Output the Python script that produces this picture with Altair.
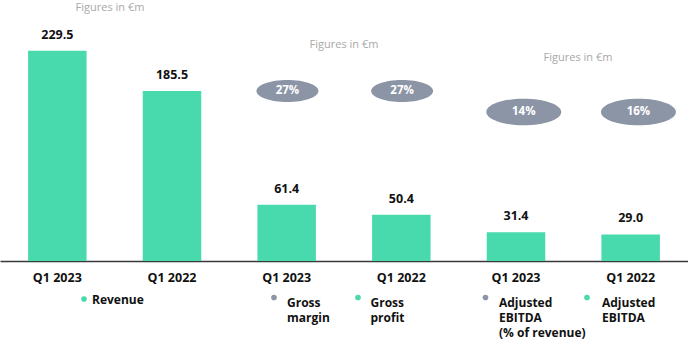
import json
import altair as alt
import pandas as pd

# ---- data ----
slots = [0, 1, 2, 3, 4, 5]
periods = ["Q1 2023", "Q1 2022", "Q1 2023", "Q1 2022", "Q1 2023", "Q1 2022"]
values = [229.5, 185.5, 61.4, 50.4, 31.4, 29.0]
value_labels = ["229.5", "185.5", "61.4", "50.4", "31.4", "29.0"]

margin_slots = [2, 3]
margin_labels = ["27%", "27%"]
ebitda_pct_slots = [4, 5]
ebitda_pct_labels = ["14%", "16%"]

legend_labels = ["Revenue", "Gross\nmargin", "Gross\nprofit",
                 "Adjusted\nEBITDA\n(% of revenue)", "Adjusted\nEBITDA"]
legend_kinds = ["green", "gray", "green", "gray", "green"]
note_text = "Figures in €m"

GREEN = "#48D9AD"
GRAY = "#8C95A6"
FONT = "Open Sans"

bars_df = pd.DataFrame({"slot": slots, "period": periods, "value": values,
                        "label": value_labels})

xscale = alt.Scale(domain=slots, paddingInner=0.49, paddingOuter=0.245)
yscale = alt.Scale(domain=[0, 285])
X = alt.X("slot:O", scale=xscale,
          axis=alt.Axis(labels=False, ticks=False, title=None,
                        domainColor="#3a3a3a", domainWidth=1.5, grid=False))
Y = alt.Y("value:Q", scale=yscale, axis=None)

base = alt.Chart(bars_df)
bars = base.mark_bar(color=GREEN).encode(x=X, y=Y)
val_text = base.mark_text(font=FONT, fontWeight="bold", fontSize=12.5,
                          color="#111111", baseline="alphabetic", dy=-12).encode(
    x=X, y=Y, text="label:N")
period_text = base.mark_text(font=FONT, fontWeight="bold", fontSize=12.5,
                             color="#111111", baseline="alphabetic").encode(
    x=X, y=alt.value(282), text="period:N")

ELLIPSE = "M -1 0 A 1 0.355 0 1 0 1 0 A 1 0.355 0 1 0 -1 0 Z"
HALF_BAND = 29  # xOffset is measured from the band start


def bubbles(sl, labels, ypix, width, xoff):
    df = pd.DataFrame({"slot": sl, "label": labels})
    c = alt.Chart(df)
    e = c.mark_point(shape=ELLIPSE, filled=True, color=GRAY, opacity=1,
                     size=width * width, strokeWidth=0).encode(
        x=X, y=alt.value(ypix), xOffset=alt.value(HALF_BAND + xoff))
    t = c.mark_text(font=FONT, fontWeight="bold", fontSize=11.5, color="white",
                    baseline="middle").encode(
        x=X, y=alt.value(ypix), xOffset=alt.value(HALF_BAND + xoff), text="label:N")
    return e + t


b1 = bubbles(margin_slots, margin_labels, 91, 62, 1)
b2 = bubbles(ebitda_pct_slots, ebitda_pct_labels, 112, 75, 8)

# "Figures in €m" notes
notes = []
for nx, ny in [(110, 8), (344, 45), (578, 58)]:
    notes.append(alt.Chart(pd.DataFrame({"t": [note_text]})).mark_text(
        font=FONT, fontSize=11, color="#A8A8A8", baseline="middle").encode(
        x=alt.value(nx), y=alt.value(ny), text="t:N"))

# legend items
legend_layers = []
legend_pos = [(84, 299, 92, 304), (274, 297.5, 287, 307),
              (358, 297.5, 370.5, 307), (485.5, 297.5, 499, 307),
              (587, 297.5, 602, 307)]
for lab, kind, (dx_, dy_, tx, ty) in zip(legend_labels, legend_kinds, legend_pos):
    col = GREEN if kind == "green" else GRAY
    d = pd.DataFrame({"t": [lab]})
    dot = alt.Chart(d).mark_point(shape="circle", filled=True, color=col,
                                  opacity=1, size=32).encode(
        x=alt.value(dx_), y=alt.value(dy_))
    txt = alt.Chart(d).mark_text(font=FONT, fontWeight="bold", fontSize=12,
                                 color="#111111", align="left",
                                 baseline="alphabetic", lineBreak="\n",
                                 lineHeight=15).encode(
        x=alt.value(tx), y=alt.value(ty), text="t:N")
    legend_layers += [dot, txt]

chart = alt.layer(bars, val_text, period_text, b1, b2, *notes, *legend_layers).properties(
    width=688, height=261,
    autosize=alt.AutoSizeParams(type="none"),
    padding={"left": 0, "top": 0, "right": 0, "bottom": 87},
    background="white",
).configure_view(stroke=None)

chart.save("out.html", embed_options={"renderer": "svg", "actions": False})
